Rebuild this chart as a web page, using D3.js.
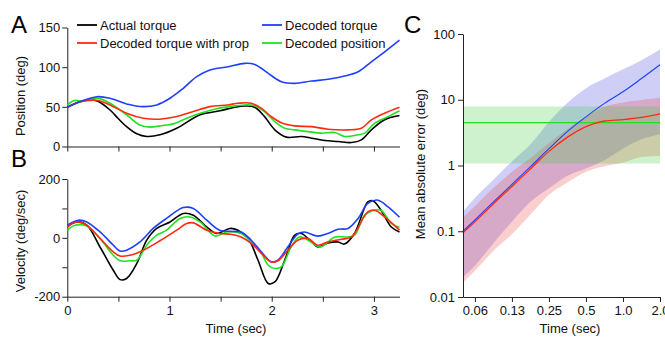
<!DOCTYPE html>
<html><head><meta charset="utf-8">
<script src="https://cdn.jsdelivr.net/npm/d3@7/dist/d3.min.js"></script>
<style>
html,body{margin:0;padding:0;background:#fff;}
svg{display:block;font-family:Arial,"Liberation Sans",sans-serif;}
</style></head>
<body><svg id="c" width="665" height="337"></svg>
<script>
// ---------- data ----------
// Panel A: position (deg) vs time (sec)
const posActual = [[0,49.5],[0.12,56.5],[0.22,58.7],[0.3,57],[0.418,46],[0.5,35],[0.58,25],[0.68,16],[0.777,12.6],[0.907,14.7],[1.07,23],[1.3,40],[1.494,45],[1.64,49.5],[1.736,51],[1.834,49.5],[1.93,37.7],[2.03,21],[2.143,11.8],[2.29,12.6],[2.39,10.5],[2.52,7.5],[2.65,6.3],[2.78,5],[2.877,8.4],[2.975,21],[3.1,33.5],[3.25,39]];
const posTorqueProp = [[0,49.5],[0.12,56],[0.254,58.5],[0.3,58],[0.418,52.4],[0.58,42],[0.744,35.7],[0.907,34.4],[1.07,37.7],[1.233,44],[1.396,50.3],[1.57,52.4],[1.67,54.5],[1.8,54.5],[1.9,48],[1.996,37.7],[2.094,30],[2.225,26],[2.39,25],[2.55,21.8],[2.747,21],[2.877,23],[2.975,33.5],[3.105,42],[3.25,49.5]];
const posTorque = [[0,49.5],[0.124,56.5],[0.29,62.8],[0.418,60.8],[0.58,53.6],[0.744,50.3],[0.875,52.4],[1.005,60.8],[1.135,73.4],[1.266,88],[1.396,96.4],[1.572,100.5],[1.736,104.8],[1.834,103.5],[1.966,92.2],[2.094,81.7],[2.225,79.6],[2.39,82.5],[2.55,84.7],[2.714,88.8],[2.845,94.2],[2.975,106.8],[3.105,119.3],[3.25,134]];
const posDecoded = [[0,52],[0.06,57.8],[0.157,57.4],[0.29,61],[0.418,54.5],[0.58,40],[0.71,27],[0.81,24.4],[0.907,26],[0.97,27],[1.037,28.5],[1.168,35.7],[1.3,42],[1.46,47.7],[1.572,50],[1.736,52.4],[1.834,51.5],[1.93,44],[2.03,31.4],[2.127,23],[2.225,21],[2.355,18.8],[2.485,16.8],[2.617,17.6],[2.714,12.6],[2.845,14.7],[2.91,16.8],[3.008,29.4],[3.138,37.7],[3.25,45]];
// Panel B: velocity (deg/sec) vs time (sec)
const velActual = [[0,37],[0.09,54],[0.19,43],[0.32,-31],[0.45,-110],[0.516,-142],[0.58,-138],[0.68,-87],[0.777,-8],[0.875,32],[1.005,54],[1.135,83],[1.233,77],[1.364,37],[1.46,15],[1.59,32],[1.67,26],[1.77,-2],[1.866,-76],[1.966,-155],[2.03,-150],[2.127,-76],[2.225,9],[2.29,15],[2.39,-14],[2.45,-31],[2.55,-17],[2.65,-14],[2.71,-21],[2.81,15],[2.94,122],[2.99,126],[3.07,94],[3.17,37],[3.25,20]];
const velTorque = [[0,43],[0.107,60],[0.19,54],[0.32,20],[0.45,-25],[0.516,-45],[0.58,-42],[0.711,-14],[0.84,32],[0.97,66],[1.135,103],[1.233,100],[1.364,60],[1.49,26],[1.6,22],[1.7,20],[1.8,-8],[1.9,-48],[1.996,-82],[2.06,-76],[2.157,-31],[2.255,13],[2.32,20],[2.45,6],[2.55,15],[2.65,29],[2.747,32],[2.845,66],[2.94,117],[3.04,128],[3.138,105],[3.25,70]];
const velTorqueProp = [[0,37],[0.09,54],[0.19,43],[0.32,-2],[0.45,-48],[0.516,-62],[0.613,-59],[0.744,-42],[0.907,-10],[1.07,26],[1.168,49],[1.233,51],[1.364,26],[1.49,15],[1.6,12],[1.7,3],[1.8,-19],[1.9,-53],[1.996,-82],[2.06,-78],[2.157,-42],[2.255,-8],[2.355,-2],[2.45,-25],[2.55,-14],[2.68,-5],[2.78,3],[2.94,88],[3.008,94],[3.105,71],[3.25,26]];
const velDecoded = [[0,26],[0.075,43],[0.19,40],[0.32,-2],[0.45,-59],[0.516,-78],[0.613,-78],[0.68,-76],[0.777,-25],[0.875,9],[0.97,26],[1.103,66],[1.2,71],[1.3,54],[1.445,6],[1.56,20],[1.7,15],[1.8,-14],[1.9,-53],[1.966,-93],[2.03,-104],[2.094,-99],[2.19,-31],[2.27,3],[2.355,-8],[2.47,-31],[2.55,-14],[2.617,3],[2.747,3],[2.81,9],[2.91,77],[3.008,94],[3.07,94],[3.17,49],[3.25,35]];
// Panel C: mean absolute error (deg) vs prediction time (sec)
const cTimes    = [0.05,0.0625,0.088,0.125,0.177,0.25,0.354,0.5,0.707,1.0,1.414,2.0];
const blueMean  = [0.1,0.149,0.277,0.515,0.96,1.8,3.3,5.5,8.8,13.2,21,34];
const blueUpper = [0.2,0.32,0.6,1.15,2.1,4.6,9.0,15,21,29,40,58];
const blueLower = [0.02,0.03,0.065,0.14,0.28,0.45,0.7,0.9,1.2,1.8,2.5,3.0];
const redMean   = [0.095,0.139,0.26,0.48,0.89,1.64,2.7,3.9,4.75,5.0,5.4,6.1];
const redUpper  = [0.16,0.24,0.45,0.8,1.3,2.2,3.6,5.5,7.8,9.1,9.9,10.7];
const redLower  = [0.0164,0.025,0.05,0.09,0.18,0.36,0.55,0.8,0.97,1.1,1.35,1.4];
const greenStat = [1.07,4.5,7.9]; // lower, mean, upper
// tick labels
const aYTicks = [0,50,100,150];
const bYTicks = [-200,-100,0,100,200];
const bYLabels = [-200,0,200];
const abXTicks = [0,0.5,1,1.5,2,2.5,3];
const cXTicks = [0.0625,0.125,0.25,0.5,1,2];
const cXLabels = ["0.06","0.13","0.25","0.5","1.0","2.0"];
const cYTicks = [0.01,0.1,1,10,100];
const cYLabels = ["0.01","0.1","1","10","100"];
const legendItems = [["Actual torque","#000000"],["Decoded torque with prop","#ff2a10"],["Decoded torque","#1f3fff"],["Decoded position","#22e022"]];

// ---------- drawing ----------
const svg = d3.select("#c");
const AX = "#222";
const COL = {black:"#000000", red:"#ff2a10", blue:"#1f3fff", green:"#22e022"};

const xA = d3.scaleLinear().domain([0,3.25]).range([67.3,399.5]);
const yA = d3.scaleLinear().domain([0,150]).range([146.5,27.5]);
const yB = d3.scaleLinear().domain([-200,200]).range([296.7,179]);
const xC = d3.scaleLog().base(2).domain([0.05,2]).range([463,660]);
const yC = d3.scaleLog().domain([0.01,100]).range([297,34]);

function styleAxis(g){
  g.selectAll("path.domain").attr("stroke",AX).attr("stroke-width",1);
  g.selectAll(".tick line").attr("stroke",AX).attr("stroke-width",1);
  g.selectAll(".tick text").attr("fill","#111").style("font-size","13px").style("font-family","Arial, 'Liberation Sans', sans-serif");
}

// Panel A axes
svg.append("g").attr("transform",`translate(${xA(0)},0)`)
  .call(d3.axisLeft(yA).tickValues(aYTicks).tickSize(5).tickSizeOuter(0).tickPadding(2)).call(styleAxis);
svg.append("g").attr("transform",`translate(0,${yA(0)})`)
  .call(d3.axisBottom(xA).tickValues(abXTicks).tickSize(5).tickSizeOuter(0).tickFormat("")).call(styleAxis);

// Panel B axes
svg.append("g").attr("transform",`translate(${xA(0)},0)`)
  .call(d3.axisLeft(yB).tickValues(bYTicks).tickSize(5).tickSizeOuter(0).tickPadding(2)
    .tickFormat(d=>bYLabels.includes(d)?String(d):"")).call(styleAxis);
svg.append("g").attr("transform",`translate(0,${yB(-200)})`)
  .call(d3.axisBottom(xA).tickValues(abXTicks).tickSize(5).tickSizeOuter(0).tickPadding(4)
    .tickFormat(d=>Number.isInteger(d)?String(d):"")).call(styleAxis);

const lineA = d3.line().x(d=>xA(d[0])).y(d=>yA(d[1])).curve(d3.curveCatmullRom.alpha(0.5));
const lineB = d3.line().x(d=>xA(d[0])).y(d=>yB(d[1])).curve(d3.curveCatmullRom.alpha(0.5));

[[posActual,COL.black],[posDecoded,COL.green],[posTorqueProp,COL.red],[posTorque,COL.blue]].forEach(([d,c])=>{
  svg.append("path").datum(d).attr("d",lineA).attr("fill","none").attr("stroke",c).attr("stroke-width",1.6).attr("stroke-linejoin","round");
});
[[velActual,COL.black],[velDecoded,COL.green],[velTorque,COL.blue],[velTorqueProp,COL.red]].forEach(([d,c])=>{
  svg.append("path").datum(d).attr("d",lineB).attr("fill","none").attr("stroke",c).attr("stroke-width",1.6).attr("stroke-linejoin","round");
});

// Legend
const legPos = [[77,25],[77,43],[262,25],[262,43]];
legendItems.forEach(([lab,c],i)=>{
  const [lx,ly]=legPos[i];
  svg.append("line").attr("x1",lx).attr("x2",lx+20).attr("y1",ly).attr("y2",ly).attr("stroke",c).attr("stroke-width",1.8);
  svg.append("text").attr("x",lx+23).attr("y",ly+4.6).text(lab).style("font-size","13px").attr("fill","#111");
});

// Panel C
const cIdx = d3.range(cTimes.length);
const areaC = (lo,hi)=>d3.area().x(i=>xC(cTimes[i])).y0(i=>yC(lo[i])).y1(i=>yC(hi[i])).curve(d3.curveMonotoneX);
const lineC = (m)=>d3.line().x(i=>xC(cTimes[i])).y(i=>yC(m[i])).curve(d3.curveMonotoneX);

svg.append("path").datum(cIdx).attr("d",areaC(blueLower,blueUpper)).attr("fill","rgb(60,60,225)").attr("fill-opacity",0.25);
svg.append("path").datum(cIdx).attr("d",areaC(redLower,redUpper)).attr("fill","rgb(240,60,60)").attr("fill-opacity",0.25);
svg.append("rect").attr("x",xC(0.05)).attr("width",xC(2)-xC(0.05))
  .attr("y",yC(greenStat[2])).attr("height",yC(greenStat[0])-yC(greenStat[2]))
  .attr("fill","rgb(60,205,60)").attr("fill-opacity",0.25);
svg.append("line").attr("x1",xC(0.05)).attr("x2",xC(2)).attr("y1",yC(greenStat[1])).attr("y2",yC(greenStat[1]))
  .attr("stroke",COL.green).attr("stroke-width",1.2);
svg.append("path").datum(cIdx).attr("d",lineC(blueMean)).attr("fill","none").attr("stroke",COL.blue).attr("stroke-width",1.1);
svg.append("path").datum(cIdx).attr("d",lineC(redMean)).attr("fill","none").attr("stroke",COL.red).attr("stroke-width",1.3);

svg.append("g").attr("transform",`translate(${xC(0.05)},0)`)
  .call(d3.axisLeft(yC).tickValues(cYTicks).tickSize(5).tickSizeOuter(0).tickPadding(3)
    .tickFormat((d,i)=>cYLabels[i])).call(styleAxis);
svg.append("g").attr("transform",`translate(0,${yC(0.01)})`)
  .call(d3.axisBottom(xC).tickValues(cXTicks).tickSize(5).tickSizeOuter(0).tickPadding(4)
    .tickFormat((d,i)=>cXLabels[i])).call(styleAxis);

// Axis titles
const txt = (x,y,s,rot)=>{
  const t = svg.append("text").attr("text-anchor","middle").style("font-size","13px").attr("fill","#111").text(s);
  if(rot) t.attr("transform",`translate(${x},${y}) rotate(-90)`); else t.attr("x",x).attr("y",y);
};
txt(24.5,96,"Position (deg)",true);
txt(24.5,241,"Velocity (deg/sec)",true);
txt(236,333,"Time (sec)");
txt(424.5,164,"Mean absolute error (deg)",true);
txt(570,333,"Time (sec)");

// Panel letters
[["A",11,33],["B",11,167],["C",404,33]].forEach(([s,x,y])=>{
  svg.append("text").attr("x",x).attr("y",y).text(s).style("font-size","24px").attr("fill","#000");
});
</script></body></html>
